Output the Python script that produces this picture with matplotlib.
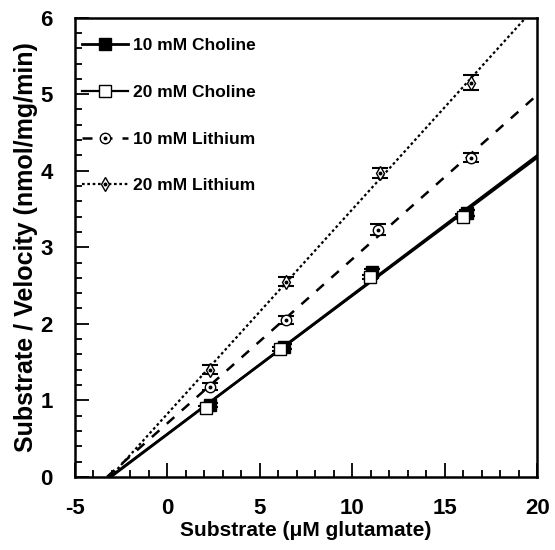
import numpy as np
import matplotlib
matplotlib.use('Agg')
import matplotlib.pyplot as plt
from matplotlib.legend_handler import HandlerTuple

plt.rcParams['font.family'] = ['Liberation Sans', 'DejaVu Sans']
plt.rcParams['font.weight'] = 'bold'
plt.rcParams['axes.unicode_minus'] = False

# data (S/V vs S, Hanes-Woolf plot)
labels = ['10 mM Choline', '20 mM Choline', '10 mM Lithium', '20 mM Lithium']
x_cho10 = [2.29, 6.29, 11.09, 16.22]
y_cho10 = [0.94, 1.70, 2.67, 3.45]
x_cho20 = [2.07, 6.07, 10.98, 16.0]
y_cho20 = [0.90, 1.67, 2.61, 3.40]
x_li10 = [2.3, 6.4, 11.4, 16.4]
y_li10 = [1.18, 2.05, 3.23, 4.17]
x_li20 = [2.3, 6.4, 11.5, 16.4]
y_li20 = [1.40, 2.55, 3.97, 5.15]
err_cho10 = [0.03, 0.03, 0.04, 0.04]
err_cho20 = [0.03, 0.03, 0.03, 0.03]
err_li10 = [0.04, 0.05, 0.07, 0.06]
err_li20 = [0.06, 0.06, 0.06, 0.10]

xs = [x_cho10, x_cho20, x_li10, x_li20]
ys = [y_cho10, y_cho20, y_li10, y_li20]
errs = [err_cho10, err_cho20, err_li10, err_li20]
styles = [
    dict(ls='-', lw=2.0, marker='s', ms=8, mfc='black', dot=False),
    dict(ls='-', lw=1.6, marker='s', ms=8, mfc='white', dot=False),
    dict(ls=(0, (4, 4)), lw=1.8, marker='o', ms=7.5, mfc='white', dot=True),
    dict(ls=(0, (1.2, 1.2)), lw=1.6, marker='d', ms=7.5, mfc='white', dot=True),
]

fig = plt.figure(figsize=(5.55, 5.5), dpi=100)
ax = fig.add_axes([0.135, 0.133, 0.833, 0.835])

xmin, xmax, ymin, ymax = -5, 20, 0, 6
handles = []
for x, y, e, st in zip(xs, ys, errs, styles):
    slope, icpt = np.polyfit(x, y, 1)
    x0 = -icpt / slope
    xl = np.array([x0, xmax])
    ax.plot(xl, slope * xl + icpt, color='black', ls=st['ls'], lw=st['lw'], zorder=2)
    ax.errorbar(x, y, yerr=e, fmt='none', ecolor='black', elinewidth=1.0,
                capsize=6, capthick=1.5, zorder=3)
    ax.plot(x, y, ls='none', marker=st['marker'], ms=st['ms'], mfc=st['mfc'],
            mec='black', mew=1.0, zorder=4)
    h = ax.plot([], [], color='black', ls=st['ls'], lw=st['lw'], marker=st['marker'],
                ms=st['ms'], mfc=st['mfc'], mec='black', mew=1.0)[0]
    if st['dot']:
        ax.plot(x, y, ls='none', marker='o', ms=1.8, color='black', zorder=5)
        d = ax.plot([], [], ls='none', marker='o', ms=1.8, color='black')[0]
        handles.append((h, d))
    else:
        handles.append(h)

ax.set_xlim(xmin, xmax)
ax.set_ylim(ymin, ymax)
ax.set_xticks([-5, 0, 5, 10, 15, 20])
ax.set_xticks(np.arange(-5, 21, 1), minor=True)
ax.set_yticks([0, 1, 2, 3, 4, 5, 6])
ax.set_yticks(np.arange(0, 6.01, 0.2), minor=True)
ax.tick_params(which='both', direction='in', width=1.3, labelsize=16)
ax.tick_params(axis='x', pad=15)
ax.tick_params(axis='y', pad=16)
ax.tick_params(which='major', length=10)
ax.tick_params(which='minor', length=5)
for sp in ax.spines.values():
    sp.set_linewidth(1.8)

ax.set_xlabel('Substrate (\u03bcM glutamate)', fontsize=15, fontweight='bold', labelpad=2)
ax.set_ylabel('Substrate / Velocity (nmol/mg/min)', fontsize=18, fontweight='bold', labelpad=2)

ax.legend(handles, labels, loc='upper left', frameon=False, fontsize=12.5,
          handlelength=2.6, handletextpad=0.3, labelspacing=1.82, borderaxespad=0.3,
          bbox_to_anchor=(-0.01, 0.982), handler_map={tuple: HandlerTuple(ndivide=1)})

fig.savefig('out.png', dpi=100)
